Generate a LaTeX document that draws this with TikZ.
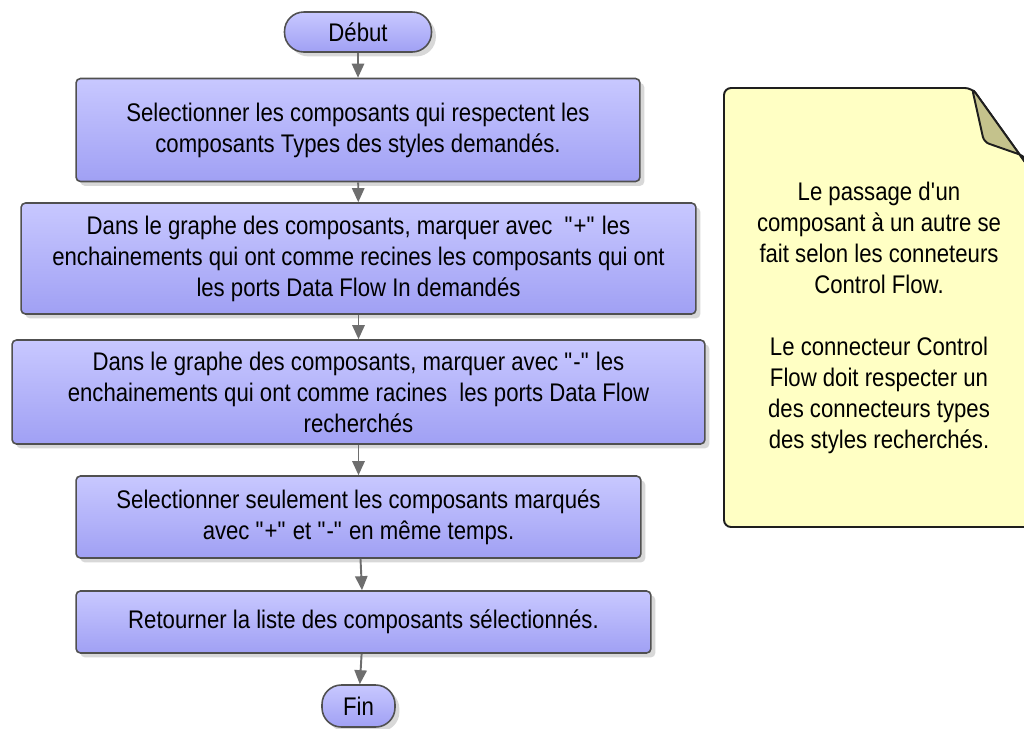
\documentclass[tikz,border=0pt]{standalone}
\usepackage{fontspec}
\setmainfont{Liberation Sans}[FakeStretch=0.87]
\usetikzlibrary{arrows.meta,shadows}
\definecolor{BoxTopClr}{RGB}{200,200,255}
\definecolor{BoxBotClr}{RGB}{160,160,244}
\definecolor{LineClr}{RGB}{80,80,80}
\definecolor{ArrowClr}{RGB}{110,110,110}
\definecolor{NoteClr}{RGB}{255,255,196}
\definecolor{NoteLineClr}{RGB}{30,30,30}
\definecolor{FoldClr}{RGB}{196,194,140}
\newcommand{\qt}[1]{\textquotedbl#1\textquotedbl}

\begin{document}
\begin{tikzpicture}[x=0.02cm,y=-0.02cm,
  stepbox/.style={draw=LineClr,line width=0.9pt,rounded corners=2.5pt,
    top color=BoxTopClr,bottom color=BoxBotClr,align=center,inner sep=0pt,
    font=\fontsize{14.5}{17.6}\selectfont,
    drop shadow={shadow xshift=2.5pt,shadow yshift=-2.5pt,opacity=0.3}},
  termbox/.style={stepbox,rounded corners=11pt},
  flow/.style={draw=ArrowClr,line width=1.1pt,-{Triangle[width=7pt,length=8pt]}}]
\clip (0,0) rectangle (1024,728);
\fill[white] (0,0) rectangle (1024,728);

\node[termbox,minimum width=2.94cm,minimum height=0.8cm] (debut) at (358,32) {Début};
\node[stepbox,minimum width=11.28cm,minimum height=2.06cm] (select) at (358,130)
  {Selectionner les composants qui respectent les\\composants Types des styles demandés.};
\node[stepbox,minimum width=13.5cm,minimum height=2.22cm] (markplus) at (358.5,258.5)
  {Dans le graphe des composants, marquer avec~ \qt{+} les\\enchainements qui ont comme recines les composants qui ont\\les ports Data Flow In demandés};
\node[stepbox,minimum width=13.86cm,minimum height=2.08cm] (markminus) at (358.5,392)
  {Dans le graphe des composants, marquer avec \qt{-} les\\enchainements qui ont comme racines~ les ports Data Flow\\recherchés};
\node[stepbox,minimum width=11.3cm,minimum height=1.64cm] (both) at (358.5,517)
  {Selectionner seulement les composants marqués\\avec \qt{+} et \qt{-} en même temps.};
\node[stepbox,minimum width=11.5cm,minimum height=1.24cm] (retour) at (363.5,622)
  {Retourner la liste des composants sélectionnés.};
\node[termbox,minimum width=1.46cm,minimum height=0.84cm] (fin) at (358.5,706) {Fin};

\draw[flow] (debut) -- (select);
\draw[flow] (select) -- (markplus);
\draw[flow] (markplus) -- (markminus);
\draw[flow] (markminus) -- (both);
\draw[flow] (both) -- (retour);
\draw[flow] (retour) -- (fin);

\draw[draw=NoteLineClr,line width=1.1pt,fill=NoteClr,rounded corners=4pt]
  (724,88) -- (972,88) -- (1045,190) -- (1045,527) -- (724,527) -- cycle;
\draw[draw=NoteLineClr,line width=1.1pt,fill=FoldClr,rounded corners=3pt]
  (972,88) -- (984,142) -- (1024,156) -- (1045,190) -- cycle;
\node[align=center,inner sep=0pt,font=\fontsize{14.5}{17.6}\selectfont] (note) at (879,318)
  {Le passage d\textquotesingle un\\composant à un autre se\\fait selon les conneteurs\\Control Flow.\\~\\Le connecteur Control\\Flow doit respecter un\\des connecteurs types\\des styles recherchés.};

\end{tikzpicture}
\end{document}
